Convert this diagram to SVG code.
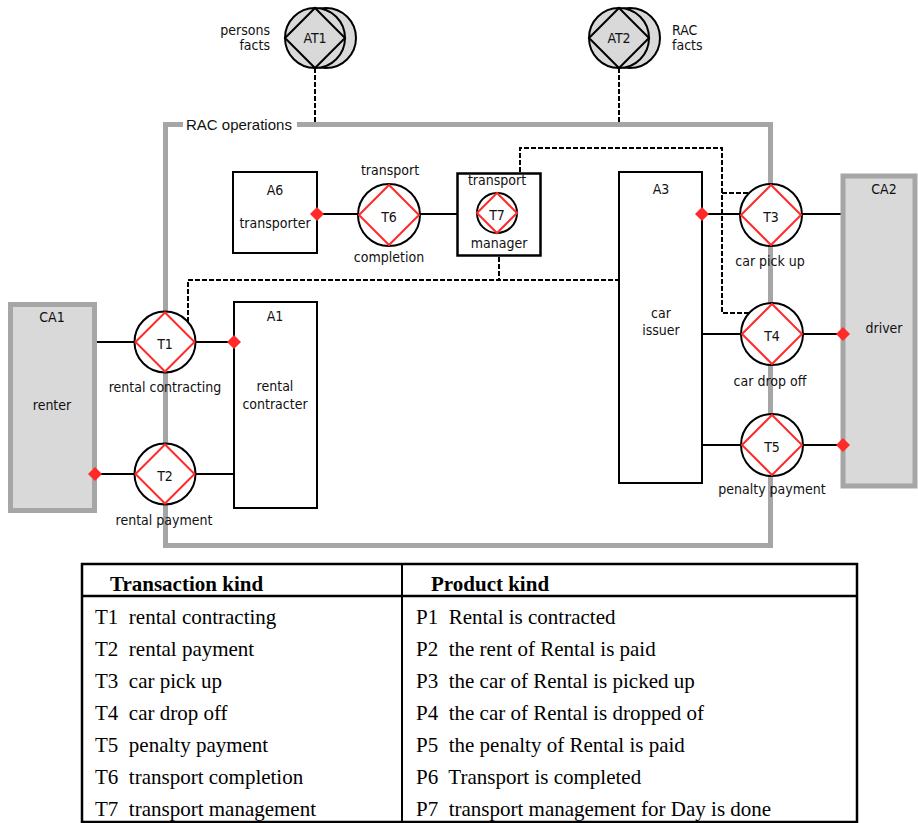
<svg xmlns="http://www.w3.org/2000/svg" width="918" height="823" viewBox="0 0 918 823">
<defs>
<style>
.t{font-family:'DejaVu Sans Condensed','DejaVu Sans',sans-serif;font-stretch:condensed;font-size:14px;fill:#111;text-anchor:middle}
.tr{text-anchor:end}
.tl{text-anchor:start}
.tbl{font-family:'Liberation Serif','Times New Roman',serif;font-size:21px;fill:#000}
.tbh{font-weight:bold}
.ln{stroke:#000;stroke-width:2;fill:none}
.dash{stroke:#000;stroke-width:2;fill:none;stroke-dasharray:5 2}
.tc{fill:#fff;stroke:#000;stroke-width:2}
.td{fill:none;stroke:#ff2a2a;stroke-width:2}
.actor{fill:#fff;stroke:#000;stroke-width:2}
.comp{fill:#d9d9d9;stroke:#a6a6a6;stroke-width:5}
.at{fill:#d9d9d9;stroke:#000;stroke-width:2}
.rd{fill:#ff2a2a}
</style>
<path id="rdiam" d="M-7 0L0 -7L7 0L0 7Z"/>
</defs>
<rect width="918" height="823" fill="#fff"/>

<g id="rac-operations">
<rect x="165.5" y="124.5" width="605" height="421" fill="none" stroke="#a6a6a6" stroke-width="5"/>
<rect x="183" y="114" width="114" height="17" fill="#fff"/>
<text x="186" y="130" font-family="'Liberation Sans',Arial,sans-serif" font-size="15" fill="#111">RAC operations</text>
</g>

<g id="connectors">
<line class="dash" x1="315" y1="68" x2="315" y2="122"/>
<line class="dash" x1="619" y1="68" x2="619" y2="122"/>
<line class="dash" x1="499" y1="257" x2="499" y2="280"/>
<polyline class="dash" points="188,322 188,280 619,280"/>
<polyline class="dash" points="520,172 520,148 722,148 722,313 749,313"/>
<line class="dash" x1="722" y1="193" x2="749" y2="193"/>
<line class="ln" x1="95" y1="342" x2="134" y2="342"/>
<line class="ln" x1="196" y1="342" x2="234" y2="342"/>
<line class="ln" x1="95" y1="474" x2="134" y2="474"/>
<line class="ln" x1="196" y1="474" x2="234" y2="474"/>
<line class="ln" x1="317" y1="214" x2="358" y2="214"/>
<line class="ln" x1="420" y1="214" x2="457" y2="214"/>
<line class="ln" x1="702" y1="214" x2="740" y2="214"/>
<line class="ln" x1="802" y1="214" x2="843" y2="214"/>
<line class="ln" x1="702" y1="334" x2="741" y2="334"/>
<line class="ln" x1="803" y1="334" x2="843" y2="334"/>
<line class="ln" x1="702" y1="445" x2="741" y2="445"/>
<line class="ln" x1="803" y1="445" x2="843" y2="445"/>
</g>

<g id="AT1">
<circle class="at" cx="326" cy="38" r="30"/>
<circle class="at" cx="315" cy="38" r="30"/>
<path d="M285 38L315 8L345 38L315 68Z" fill="none" stroke="#000" stroke-width="2"/>
<text class="t" x="315" y="43" font-size="13.5">AT1</text>
<text class="t tr" x="270" y="35" font-size="13.5">persons</text>
<text class="t tr" x="270" y="50" font-size="13.5">facts</text>
</g>

<g id="AT2">
<circle class="at" cx="630" cy="38" r="30"/>
<circle class="at" cx="619" cy="38" r="30"/>
<path d="M589 38L619 8L649 38L619 68Z" fill="none" stroke="#000" stroke-width="2"/>
<text class="t" x="619" y="43" font-size="13.5">AT2</text>
<text class="t tl" x="672" y="35" font-size="13.5">RAC</text>
<text class="t tl" x="672" y="50" font-size="13.5">facts</text>
</g>

<g id="CA1">
<rect class="comp" x="10.5" y="304.5" width="84" height="206"/>
<text class="t" x="52" y="322">CA1</text>
<text class="t" x="52" y="410">renter</text>
<use href="#rdiam" x="95" y="474" class="rd"/>
</g>

<g id="CA2">
<rect class="comp" x="843" y="176" width="72" height="310"/>
<text class="t" x="884" y="194">CA2</text>
<text class="t" x="884" y="333">driver</text>
<use href="#rdiam" x="843" y="334" class="rd"/>
<use href="#rdiam" x="843" y="445" class="rd"/>
</g>

<g id="A1">
<rect class="actor" x="234" y="302" width="83" height="206"/>
<text class="t" x="275" y="321">A1</text>
<text class="t" x="275" y="391">rental</text>
<text class="t" x="275" y="409">contracter</text>
<use href="#rdiam" x="234" y="342" class="rd"/>
</g>

<g id="A6">
<rect class="actor" x="233" y="172" width="84" height="81"/>
<text class="t" x="275" y="195">A6</text>
<text class="t" x="275" y="228">transporter</text>
<use href="#rdiam" x="317" y="214" class="rd"/>
</g>

<g id="A3">
<rect class="actor" x="619" y="172" width="83" height="311"/>
<text class="t" x="661" y="194">A3</text>
<text class="t" x="661" y="318">car</text>
<text class="t" x="661" y="335">issuer</text>
<use href="#rdiam" x="702" y="214" class="rd"/>
</g>

<g id="T1">
<circle class="tc" cx="165" cy="342" r="30.5"/>
<path class="td" d="M135.5 342L165 312.5L194.5 342L165 371.5Z"/>
<text class="t" x="165" y="349">T1</text>
<text class="t" x="165" y="392">rental contracting</text>
</g>

<g id="T2">
<circle class="tc" cx="165" cy="474" r="30.5"/>
<path class="td" d="M135.5 474L165 444.5L194.5 474L165 503.5Z"/>
<text class="t" x="165" y="481">T2</text>
<text class="t" x="164" y="525">rental payment</text>
</g>

<g id="T6">
<circle class="tc" cx="389" cy="215" r="31"/>
<path class="td" d="M359 215L389 185L419 215L389 245Z"/>
<text class="t" x="389" y="222">T6</text>
<text class="t" x="390" y="175">transport</text>
<text class="t" x="389" y="262">completion</text>
</g>

<g id="T7">
<rect x="457.5" y="173.5" width="83" height="82" fill="#fff" stroke="#000" stroke-width="2.5"/>
<circle class="tc" cx="497" cy="213" r="20"/>
<path class="td" d="M477 213L497 193L517 213L497 233Z"/>
<text class="t" x="497" y="220">T7</text>
<text class="t" x="497" y="185">transport</text>
<text class="t" x="499" y="248">manager</text>
</g>

<g id="T3">
<circle class="tc" cx="771" cy="215" r="31"/>
<path class="td" d="M741 215L771 185L801 215L771 245Z"/>
<text class="t" x="771" y="222">T3</text>
<text class="t" x="770" y="266">car pick up</text>
</g>

<g id="T4">
<circle class="tc" cx="772" cy="334" r="31"/>
<path class="td" d="M742 334L772 304L802 334L772 364Z"/>
<text class="t" x="772" y="341">T4</text>
<text class="t" x="770" y="386">car drop off</text>
</g>

<g id="T5">
<circle class="tc" cx="772" cy="445" r="31"/>
<path class="td" d="M742 445L772 415L802 445L772 475Z"/>
<text class="t" x="772" y="452">T5</text>
<text class="t" x="772" y="494">penalty payment</text>
</g>

<g id="table">
<rect x="82" y="564" width="775" height="258" fill="none" stroke="#000" stroke-width="2.5"/>
<line x1="82" y1="596" x2="857" y2="596" stroke="#000" stroke-width="2.5"/>
<line x1="402" y1="564" x2="402" y2="822" stroke="#000" stroke-width="2"/>
<text class="tbl tbh" x="110" y="591">Transaction kind</text>
<text class="tbl tbh" x="431" y="591">Product kind</text>
<text class="tbl" x="95" y="624" xml:space="preserve">T1  rental contracting</text>
<text class="tbl" x="95" y="656" xml:space="preserve">T2  rental payment</text>
<text class="tbl" x="95" y="688" xml:space="preserve">T3  car pick up</text>
<text class="tbl" x="95" y="720" xml:space="preserve">T4  car drop off</text>
<text class="tbl" x="95" y="752" xml:space="preserve">T5  penalty payment</text>
<text class="tbl" x="95" y="784" xml:space="preserve">T6  transport completion</text>
<text class="tbl" x="95" y="816" xml:space="preserve">T7  transport management</text>
<text class="tbl" x="416" y="624" xml:space="preserve">P1  Rental is contracted</text>
<text class="tbl" x="416" y="656" xml:space="preserve">P2  the rent of Rental is paid</text>
<text class="tbl" x="416" y="688" xml:space="preserve">P3  the car of Rental is picked up</text>
<text class="tbl" x="416" y="720" xml:space="preserve">P4  the car of Rental is dropped of</text>
<text class="tbl" x="416" y="752" xml:space="preserve">P5  the penalty of Rental is paid</text>
<text class="tbl" x="416" y="784" xml:space="preserve">P6  Transport is completed</text>
<text class="tbl" x="416" y="816" xml:space="preserve">P7  transport management for Day is done</text>
</g>
</svg>
